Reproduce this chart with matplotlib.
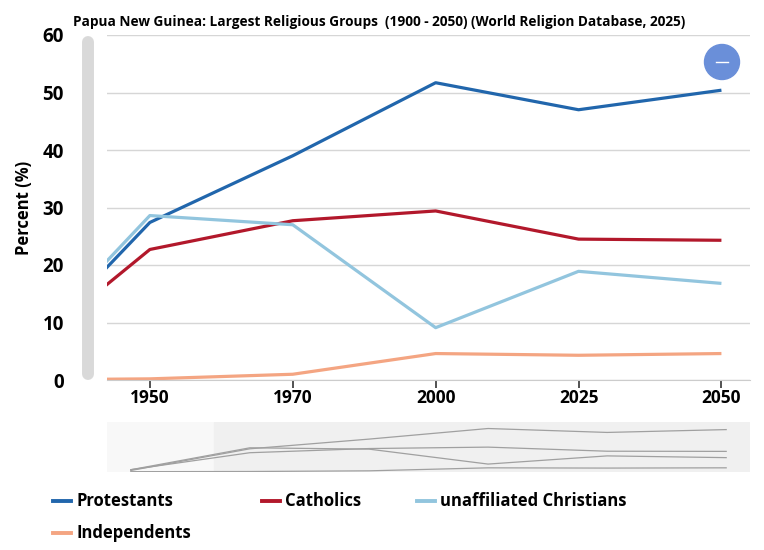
import matplotlib.pyplot as plt
import numpy as np
from matplotlib.lines import Line2D
from matplotlib.patches import Ellipse, Rectangle

plt.rcParams['font.family'] = ['Open Sans', 'DejaVu Sans']

years = ["1900", "1950", "1970", "2000", "2025", "2050"]
protestants = [1.4, 27.4, 39.0, 51.7, 47.0, 50.4]
catholics = [2.4, 22.7, 27.7, 29.4, 24.5, 24.3]
unaffiliated = [2.3, 28.6, 27.0, 9.1, 18.9, 16.8]
independents = [0.0, 0.2, 1.0, 4.6, 4.3, 4.6]

names = ["Protestants", "Catholics", "unaffiliated Christians", "Independents"]
colors = ["#2166ac", "#b2182b", "#92c5de", "#f4a582"]
series = [protestants, catholics, unaffiliated, independents]

W, H = 764, 550
fig = plt.figure(figsize=(W / 100, H / 100), dpi=100)

def box(x0, y0, x1, y1):
    # pixel box -> figure fraction
    return [x0 / W, 1 - y1 / H, (x1 - x0) / W, (y1 - y0) / H]

x = np.arange(len(years))

# main chart
ax = fig.add_axes(box(107, 35, 750, 380))
for vals, c in zip(series, colors):
    ax.plot(x, vals, color=c, lw=2.3, solid_capstyle='butt', clip_on=True)
ax.set_xlim(0.7, 5.2)
ax.set_ylim(0, 60)
ax.set_yticks(range(0, 61, 10))
ax.set_xticks(x[1:])
ax.set_xticklabels(years[1:], fontsize=12.5, fontweight='bold')
ax.tick_params(axis='x', length=6, width=1.2, color='#333333', pad=0.5)
ax.tick_params(axis='y', length=0, pad=31, labelsize=13.5)
for lab in ax.get_yticklabels():
    lab.set_fontweight('bold')
ax.grid(axis='y', color='#d6d6d6', lw=1)
ax.set_axisbelow(True)
for s in ['top', 'right', 'left']:
    ax.spines[s].set_visible(False)
ax.spines['bottom'].set_color('#cccccc')
ax.set_ylabel("Percent (%)", fontsize=12, fontweight='bold', labelpad=7)

# vertical scrollbar
fig.add_artist(Line2D([88 / W, 88 / W], [1 - 42 / H, 1 - 374 / H], color='#d9d9d9',
                      lw=8.6, solid_capstyle='round'))

# title
fig.text(73 / W, 1 - 22 / H,
         "Papua New Guinea: Largest Religious Groups  (1900 - 2050) (World Religion Database, 2025)",
         fontsize=9.8, fontweight='bold', va='center', ha='left')

# zoom button
fig.add_artist(Ellipse((722 / W, 1 - 62 / H), 35 / W, 35 / H, color='#6a8fd9',
                       transform=fig.transFigure))
fig.add_artist(Line2D([716 / W, 728 / W], [1 - 62 / H, 1 - 62 / H], color='white', lw=1))

# navigator
nav = fig.add_axes(box(107, 422, 750, 472))
nav.set_xlim(-0.2, 5.2)
nav.set_ylim(-0.4, 59.5)
nav.add_patch(Rectangle((-0.2, -0.4), 5.4, 60, color='#f8f8f8', zorder=0))
nav.add_patch(Rectangle((0.7, -0.4), 4.5, 60, color='#f0f0f0', zorder=0))
for vals in series:
    nav.plot(x, vals, color='#a0a0a0', lw=0.9)
nav.axis('off')

# legend
rows = [(0, 53, 501), (1, 262, 501), (2, 417, 501), (3, 53, 533)]
for i, px, py in rows:
    fig.add_artist(Line2D([px / W, (px + 18) / W], [1 - py / H, 1 - py / H],
                          color=colors[i], lw=2.8))
    fig.text((px + 23) / W, 1 - py / H, names[i], fontsize=12, fontweight='bold',
             va='center', ha='left')

fig.savefig("out.png", dpi=100)
